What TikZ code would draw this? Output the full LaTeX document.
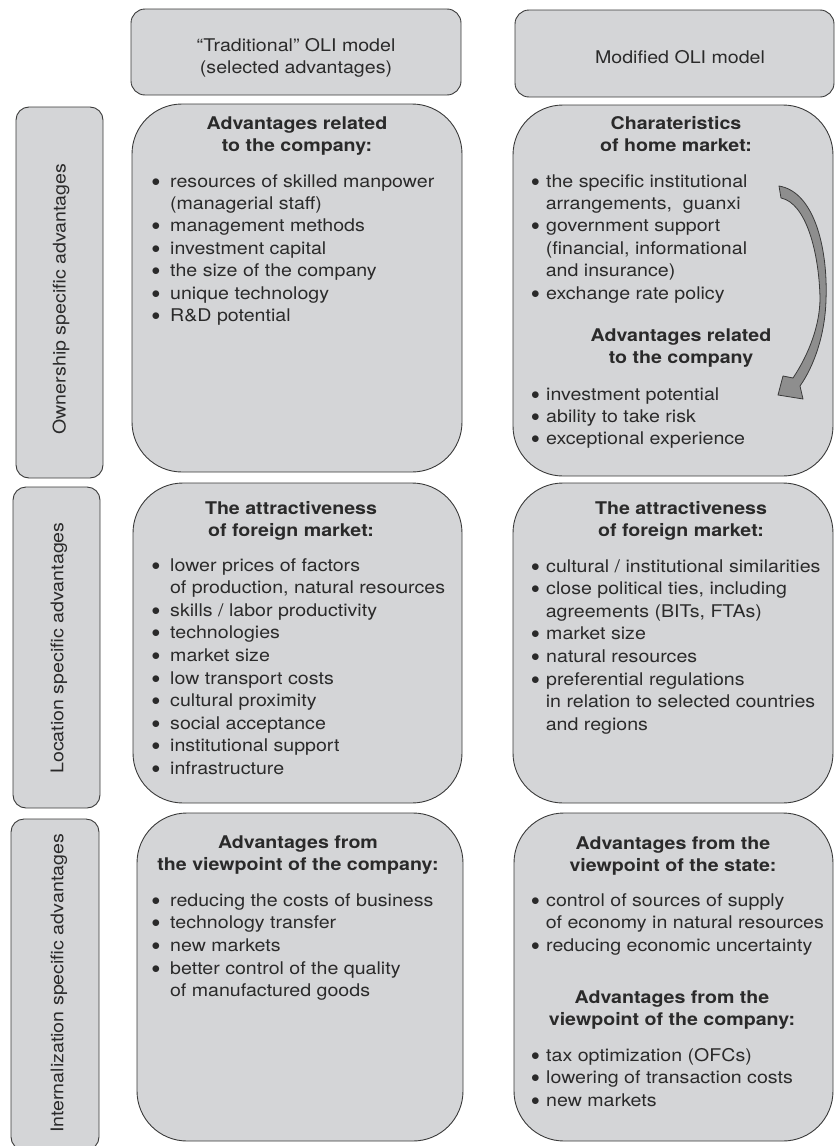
\documentclass[tikz,border=0pt]{standalone}
\usepackage{fontspec}
\setmainfont{TeX Gyre Heros}[FakeStretch=1.12]
\definecolor{boxfill}{HTML}{D4D5D7}
\definecolor{edge}{HTML}{3A3A3A}
\definecolor{ink}{HTML}{2A2A2A}
\definecolor{arrowfill}{HTML}{8E8E8E}
% bullet markers and hanging indents for the two columns
\newcommand\dotmark{\raisebox{0.9pt}{$\bullet$}}
\newcommand\bulL{\makebox[18.6pt][l]{\dotmark}}
\newcommand\contL{\hspace*{18.4pt}}
\newcommand\bulR{\makebox[15pt][l]{\dotmark}}
\newcommand\contR{\hspace*{14.6pt}}
\newcommand\lines[1]{\begin{tabular}[t]{@{}l@{}}#1\end{tabular}}
\newcommand\clines[1]{\begin{tabular}[t]{@{}c@{}}#1\end{tabular}}
\begin{document}
\begin{tikzpicture}[x=1pt,y=-1pt,
  panel/.style={draw=edge, fill=boxfill, line width=0.9pt, inner sep=0pt, outer sep=0pt, rounded corners=#1},
  panel/.default=50pt,
  body/.style={inner sep=0pt, text=ink, font=\fontsize{17.5}{22.4}\selectfont},
  listtext/.style={body, anchor=base west},
  heading/.style={body, anchor=base, font=\fontsize{17.5}{22.8}\selectfont\bfseries},
  plain/.style={body, anchor=base},
  sidelabel/.style={body, rotate=90},
]
\useasboundingbox (0,0) rectangle (835,1146);

% column headers
\node[panel=14pt, minimum width=330pt, minimum height=86pt] (hdrL) at (296,52) {};
\node[panel=14pt, minimum width=319pt, minimum height=87pt] (hdrR) at (674.5,53.5) {};
\node[plain] (hdrLtxt) at (296,51) {\clines{“Traditional” OLI model\\(selected advantages)}};
\node[plain] (hdrRtxt) at (680,63) {Modified OLI model};

% row labels
\node[panel=13pt, minimum width=87pt, minimum height=371pt] (labO) at (59.5,292.5) {};
\node[panel=13pt, minimum width=87pt, minimum height=321pt] (labL) at (56.5,647.5) {};
\node[panel=13pt, minimum width=88pt, minimum height=331pt] (labI) at (55,984.5) {};
\node[sidelabel] (labOtxt) at (61,299) {Ownership specific advantages};
\node[sidelabel] (labLtxt) at (59,648) {Location specific advantages};
\node[sidelabel] (labItxt) at (59,983.5) {Internalization specific advantages};

% content panels
\node[panel, minimum width=330pt, minimum height=368pt] (ownL) at (297,288) {};
\node[panel, minimum width=320pt, minimum height=371pt] (ownR) at (673,290.5) {};
\node[panel, minimum width=329pt, minimum height=320pt] (locL) at (297.5,643) {};
\node[panel, minimum width=320pt, minimum height=320pt] (locR) at (673,643) {};
\node[panel, minimum width=326pt, minimum height=328pt] (intL) at (300,977) {};
\node[panel, minimum width=319pt, minimum height=328pt] (intR) at (673.5,977) {};

% ownership, traditional
\node[heading] (ownLttl) at (297,129) {\clines{Advantages related\\to the company:}};
\node[listtext] (ownLlst) at (151.4,187) {\lines{%
\bulL resources of skilled manpower\\
\contL (managerial staff)\\
\bulL management methods\\
\bulL investment capital\\
\bulL the size of the company\\
\bulL unique technology\\
\bulL R\&D potential}};

% ownership, modified
\node[heading] (ownRttl) at (676,129) {\clines{Charateristics\\of home market:}};
\node[listtext] (ownRlst) at (531,187) {\lines{%
\bulR the specific institutional\\
\contR arrangements,\ \ guanxi\\
\bulR government support\\
\contR (financial, informational\\
\contR and insurance)\\
\bulR exchange rate policy}};
\node[heading] (ownRttl2) at (681,341) {\clines{Advantages related\\to the company}};
\node[listtext] (ownRlst2) at (531,400) {\lines{%
\bulR investment potential\\
\bulR ability to take risk\\
\bulR exceptional experience}};

% curved arrow from home market to company advantages
\filldraw[fill=arrowfill, draw=edge, line width=0.8pt, line join=round]
  (779,186) .. controls (815,192) and (828,250) .. (826,300)
  .. controls (825,335) and (814,366) .. (800,386)
  -- (803,399) -- (778,395) -- (783,376) -- (793,378)
  .. controls (809,354) and (820,325) .. (820,298)
  .. controls (819,252) and (806,203) .. (781,198) -- cycle;

% location, traditional
\node[heading] (locLttl) at (291,514) {\clines{The attractiveness\\of foreign market:}};
\node[listtext, font=\fontsize{17.5}{22.6}\selectfont] (locLlst) at (151.4,571) {\lines{%
\bulL lower prices of factors\\
\contL of production, natural resources\\
\bulL skills / labor productivity\\
\bulL technologies\\
\bulL market size\\
\bulL low transport costs\\
\bulL cultural proximity\\
\bulL social acceptance\\
\bulL institutional support\\
\bulL infrastructure}};

% location, modified
\node[heading] (locRttl) at (681,514) {\clines{The attractiveness\\of foreign market:}};
\node[listtext, font=\fontsize{17.5}{22.6}\selectfont] (locRlst) at (531,572) {\lines{%
\bulR cultural / institutional similarities\\
\bulR close political ties, including\\
\contR agreements (BITs, FTAs)\\
\bulR market size\\
\bulR natural resources\\
\bulR preferential regulations\\
\contR in relation to selected countries\\
\contR and regions}};

% internalization, traditional
\node[heading] (intLttl) at (298,848) {\clines{Advantages from\\the viewpoint of the company:}};
\node[listtext, font=\fontsize{17.5}{22.7}\selectfont] (intLlst) at (151.4,906) {\lines{%
\bulL reducing the costs of business\\
\bulL technology transfer\\
\bulL new markets\\
\bulL better control of the quality\\
\contL of manufactured goods}};

% internalization, modified
\node[heading] (intRttl) at (673,849) {\clines{Advantages from the\\viewpoint of the state:}};
\node[listtext, font=\fontsize{17.5}{22.7}\selectfont] (intRlst) at (531,906) {\lines{%
\bulR control of sources of supply\\
\contR of economy in natural resources\\
\bulR reducing economic uncertainty}};
\node[heading] (intRttl2) at (672,1003) {\clines{Advantages from the\\viewpoint of the company:}};
\node[listtext, font=\fontsize{17.5}{22.7}\selectfont] (intRlst2) at (531,1061) {\lines{%
\bulR tax optimization (OFCs)\\
\bulR lowering of transaction costs\\
\bulR new markets}};
\end{tikzpicture}
\end{document}
